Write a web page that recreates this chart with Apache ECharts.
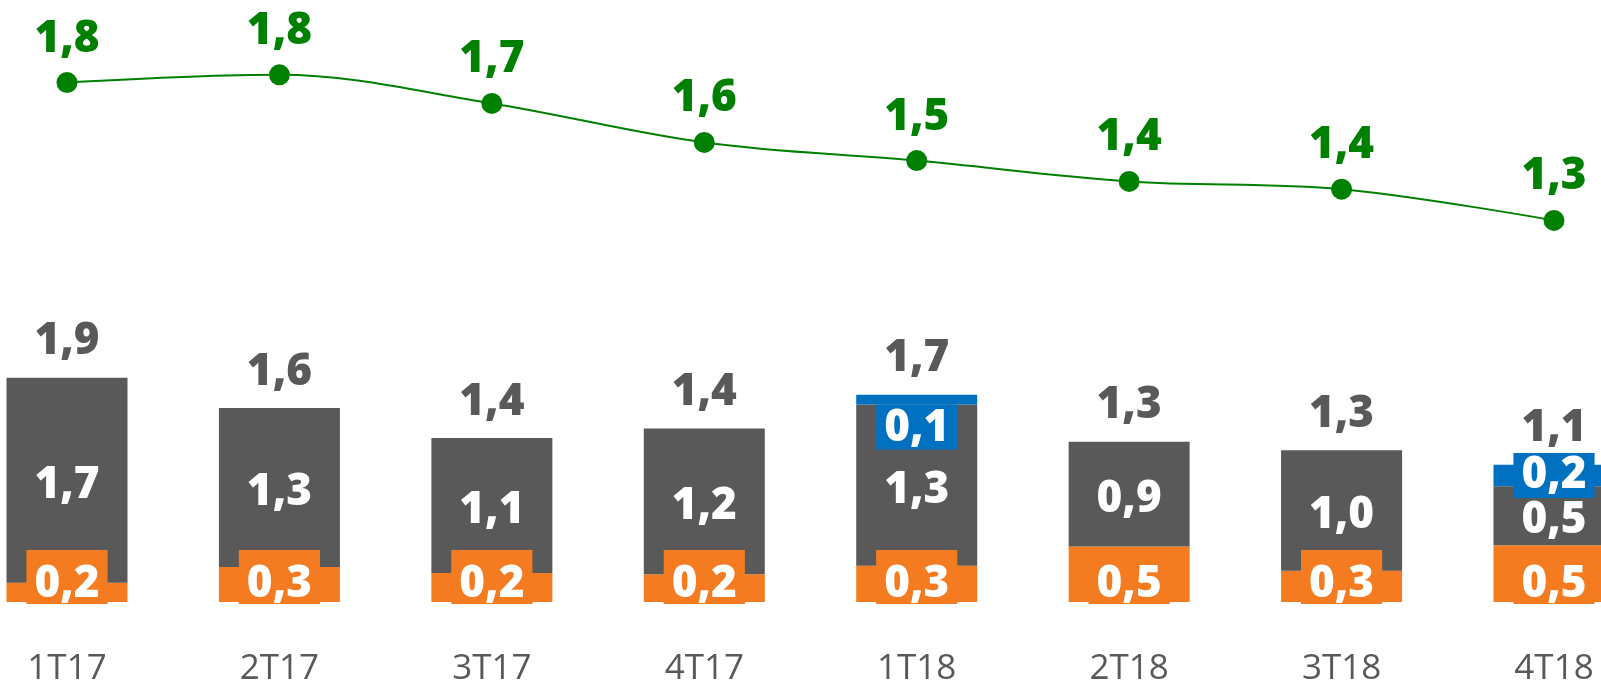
<!DOCTYPE html>
<html>
<head>
<meta charset="utf-8">
<title>Chart</title>
<script src="https://cdn.jsdelivr.net/npm/echarts@6/dist/echarts.min.js"></script>
<style>
  html, body { margin: 0; padding: 0; background: #fff; }
  #chart { width: 1601px; height: 687px; }
</style>
</head>
<body>
<div id="chart"></div>
<script>
  const categories = ['1T17', '2T17', '3T17', '4T17', '1T18', '2T18', '3T18', '4T18']

  // line on top (green)
  const lineValues = [1.79, 1.82, 1.71, 1.56, 1.49, 1.41, 1.38, 1.26]

  // stacked bars
  const orangeValues = [0.16, 0.29, 0.24, 0.23, 0.30, 0.46, 0.26, 0.47]
  const grayValues = [1.70, 1.32, 1.12, 1.21, 1.34, 0.87, 1.00, 0.49]
  const blueValues = [null, null, null, null, 0.08, null, null, 0.18]

  const GREEN = '#008000'
  const GRAY = '#595959'
  const ORANGE = '#F47B20'
  const BLUE = '#0070C0'
  const FONT = '"Open Sans", "Noto Sans", sans-serif'
  const HEAVY = 800

  const fmt = v => Number(v).toFixed(1).replace('.', ',')

  const totals = categories.map((c, i) =>
    (orangeValues[i] || 0) + (grayValues[i] || 0) + (blueValues[i] || 0))

  // first and last category sit near the page edges, so the axis runs tick to tick
  const gridLeft = 67
  const gridRight = 47

  const insideLabel = (bg) => ({
    show: true,
    color: '#fff',
    fontFamily: FONT,
    fontWeight: HEAVY,
    fontSize: 44,
    lineHeight: 40,
    backgroundColor: bg,
    padding: [4, 8, 1, 8],
    formatter: p => fmt(p.value)
  })

  const barBase = {
    type: 'bar',
    xAxisIndex: 1,
    yAxisIndex: 1,
    stack: 'total',
    barWidth: 121,
    clip: false
  }

  const chart = echarts.init(document.getElementById('chart'))

  chart.setOption({
    animation: false,
    grid: [
      { left: gridLeft, right: gridRight, top: 28, height: 260 },
      { left: gridLeft, right: gridRight, top: 361, height: 244 }
    ],
    xAxis: [
      {
        gridIndex: 0,
        type: 'category',
        boundaryGap: false,
        data: categories,
        show: false
      },
      {
        gridIndex: 1,
        type: 'category',
        boundaryGap: false,
        data: categories,
        axisLine: { show: false },
        axisTick: { show: false },
        axisLabel: {
          color: GRAY,
          fontFamily: FONT,
          fontSize: 35,
          margin: 50
        }
      }
    ],
    yAxis: [
      { gridIndex: 0, type: 'value', min: 1, max: 2, show: false },
      { gridIndex: 1, type: 'value', min: 0, max: 2, show: false }
    ],
    series: [
      {
        name: 'Linha',
        type: 'line',
        xAxisIndex: 0,
        yAxisIndex: 0,
        data: lineValues,
        smooth: 0.35,
        symbol: 'circle',
        symbolSize: 21,
        lineStyle: { color: GREEN, width: 2 },
        itemStyle: { color: GREEN },
        label: {
          show: true,
          position: 'top',
          distance: 11,
          color: GREEN,
          fontFamily: FONT,
          fontWeight: HEAVY,
          fontSize: 44,
          formatter: p => fmt(p.value)
        }
      },
      Object.assign({}, barBase, {
        name: 'Laranja',
        data: orangeValues,
        itemStyle: { color: ORANGE },
        label: Object.assign(insideLabel(ORANGE), {
          position: 'insideBottom',
          distance: -2,
          padding: [14, 8, 0, 8]
        })
      }),
      Object.assign({}, barBase, {
        name: 'Cinza',
        data: grayValues,
        itemStyle: { color: GRAY },
        label: Object.assign(insideLabel(GRAY), { position: 'inside', offset: [0, 5] })
      }),
      Object.assign({}, barBase, {
        name: 'Azul',
        // thin segments get their label just under the bar top
        data: blueValues.map(v => v == null ? '-' : {
          value: v,
          label: { position: v < 0.1 ? 'bottom' : 'inside', distance: 0 }
        }),
        itemStyle: { color: BLUE },
        label: Object.assign(insideLabel(BLUE), { position: 'inside' })
      }),
      Object.assign({}, barBase, {
        name: 'Total',
        data: totals.map(() => 0),
        itemStyle: { color: 'transparent' },
        label: {
          show: true,
          position: 'top',
          distance: 14,
          color: GRAY,
          fontFamily: FONT,
          fontWeight: HEAVY,
          fontSize: 44,
          formatter: p => fmt(totals[p.dataIndex])
        }
      })
    ]
  })
</script>
</body>
</html>
